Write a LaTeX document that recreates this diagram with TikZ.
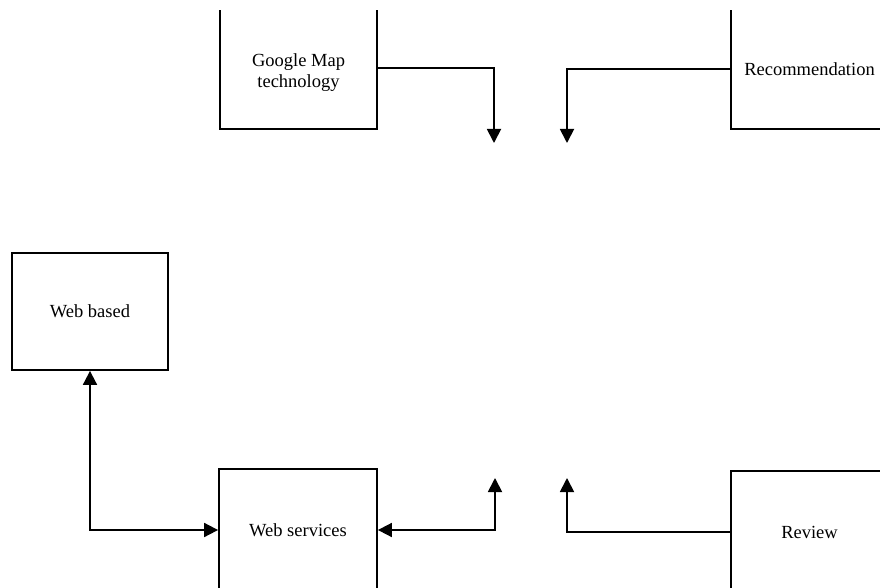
\documentclass[tikz,border=0pt]{standalone}
\usepackage{fontspec}
\setmainfont{Liberation Serif}
\usetikzlibrary{arrows.meta}
\tikzset{txt/.style={align=center, font=\fontsize{18.5}{21}\selectfont}}
\tikzset{box/.style={draw, txt, line width=1.8pt, minimum width=157pt, inner sep=0pt}}
\tikzset{lnk/.style={line width=1.8pt, -{Triangle[width=14pt,length=14pt]}}}
\tikzset{lnkb/.style={line width=1.8pt, {Triangle[width=14pt,length=14pt]}-{Triangle[width=14pt,length=14pt]}}}

\begin{document}
\begin{tikzpicture}[x=1pt, y=-1pt]
  \useasboundingbox (0,0) rectangle (880,588);
  \clip (0,11) rectangle (880,588);
  % boxes
  \node[box, minimum height=122pt, label={[txt, yshift=-5pt]center:Google Map\\technology}] (gmap) at (298.5,68) {};
  \node[box, minimum height=120pt] (rec) at (809.5,69) {Recommendation};
  \node[box, minimum width=156pt, minimum height=117pt] (web) at (90,311.5) {Web based};
  \node[box, minimum width=158pt, minimum height=122pt] (serv) at (298,530) {Web services};
  \node[box, minimum height=122pt] (rev) at (809.5,532) {Review};
  % free ends
  \coordinate (gend) at (494,143);
  \coordinate (rend) at (567,143);
  \coordinate (send) at (495,478);
  \coordinate (vend) at (567,478);
  % links
  \draw[lnk] (gmap.east) -| (gend);
  \draw[lnk] (rec.west) -| (rend);
  \draw[lnkb] (web.south) |- (serv.west);
  \draw[lnkb] (serv.east) -| (send);
  \draw[lnk] (rev.west) -| (vend);
\end{tikzpicture}
\end{document}
